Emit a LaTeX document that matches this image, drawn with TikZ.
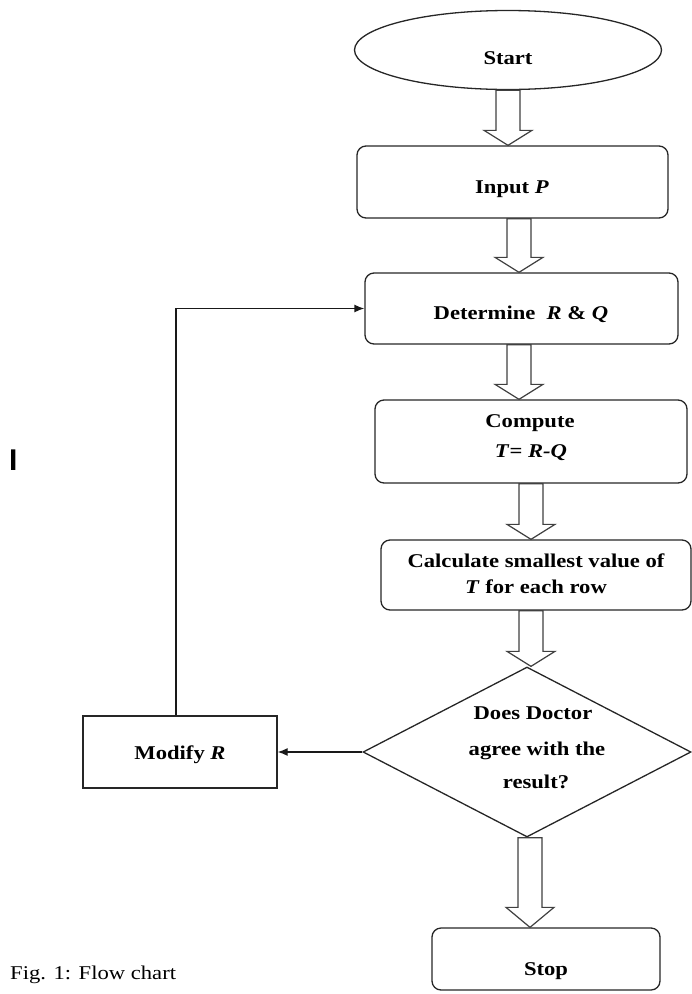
\documentclass[tikz,border=0pt]{standalone}
\usepackage{fontspec}
\setmainfont{Liberation Serif}[FakeStretch=1.16]
\newfontfamily\barfont{Liberation Sans}
\usetikzlibrary{shapes.geometric,calc,arrows.meta}
\tikzset{
  shp/.style={draw=black!85, line width=1.3pt, inner sep=0pt},
  rbox/.style={shp, rectangle, rounded corners=9pt},
  sbox/.style={shp, rectangle},
  txt/.style={inner sep=0pt, anchor=base, font=\fontsize{19.5}{23}\selectfont\bfseries},
  harrow/.style={draw=black!75, line width=1.2pt, fill=white, line join=miter},
  lnk/.style={draw=black!90, line width=1.3pt, -{Latex[length=10pt,width=8pt]}}
}
% #1 from node, #2 to node, #3 x centre, #4 head length
\newcommand{\hollowarrow}[4]{%
  \draw[harrow] let \p1=(#1.south), \p2=(#2.north) in
   ({#3pt-12pt},\y1) -- ({#3pt-12pt},{\y2+#4pt}) -- ({#3pt-24pt},{\y2+#4pt})
   -- ({#3pt},\y2) -- ({#3pt+24pt},{\y2+#4pt}) -- ({#3pt+12pt},{\y2+#4pt})
   -- ({#3pt+12pt},\y1) -- cycle;}
\begin{document}
\begin{tikzpicture}[x=1pt,y=-1pt]
\useasboundingbox (0,0) rectangle (692,994);
% shapes
\node[shp, ellipse, minimum width=307pt, minimum height=79pt] (start) at (508,50) {};
\node[rbox, minimum width=311pt, minimum height=72pt] (input) at (512.5,182) {};
\node[rbox, minimum width=313pt, minimum height=71pt] (det) at (521.5,308.5) {};
\node[rbox, minimum width=312pt, minimum height=83pt] (comp) at (531,441.5) {};
\node[rbox, minimum width=310pt, minimum height=70pt] (calc) at (536,575) {};
\node[shp, diamond, minimum width=328pt, minimum height=170pt] (dec) at (527,752) {};
\node[sbox, minimum width=194pt, minimum height=72pt] (mod) at (180,752) {};
\node[rbox, minimum width=228pt, minimum height=62pt] (stop) at (546,959) {};
% texts
\node[txt] (startT) at (508,64.5) {Start};
\node[txt] (inputT) at (512,193.5) {Input \textit{P}};
\node[txt] (detT) at (521,319) {Determine \ \textit{R} \& \textit{Q}};
\node[txt] (compT1) at (530,427) {Compute};
\node[txt] (compT2) at (531,457) {\textit{T}= \textit{R-Q}};
\node[txt] (calcT1) at (536,567) {Calculate smallest value of};
\node[txt] (calcT2) at (536,593) {\textit{T} for each row};
\node[txt] (decT1) at (533,719) {Does Doctor};
\node[txt] (decT2) at (537,755) {agree with the};
\node[txt] (decT3) at (536,788) {result?};
\node[txt] (modT) at (180,759) {Modify \textit{R}};
\node[txt] (stopT) at (546,975) {Stop};
\node[txt, anchor=base west, font=\fontsize{19.5}{23}\selectfont] (fig) at (10,979) {Fig. 1: Flow chart};
\node[inner sep=0pt, anchor=base west, font=\barfont\fontsize{30}{30}\selectfont\bfseries] (bar) at (9,470) {I};
% hollow arrows
\hollowarrow{start}{input}{508}{15}
\hollowarrow{input}{det}{519}{15}
\hollowarrow{det}{comp}{519}{15}
\hollowarrow{comp}{calc}{531}{15}
\hollowarrow{calc}{dec}{531}{15}
\hollowarrow{dec}{stop}{530}{20}
% connectors
\draw[lnk] (dec.west) -- (mod.east);
\draw[lnk] ([xshift=-4pt]mod.north) |- (det.west);
\end{tikzpicture}
\end{document}
